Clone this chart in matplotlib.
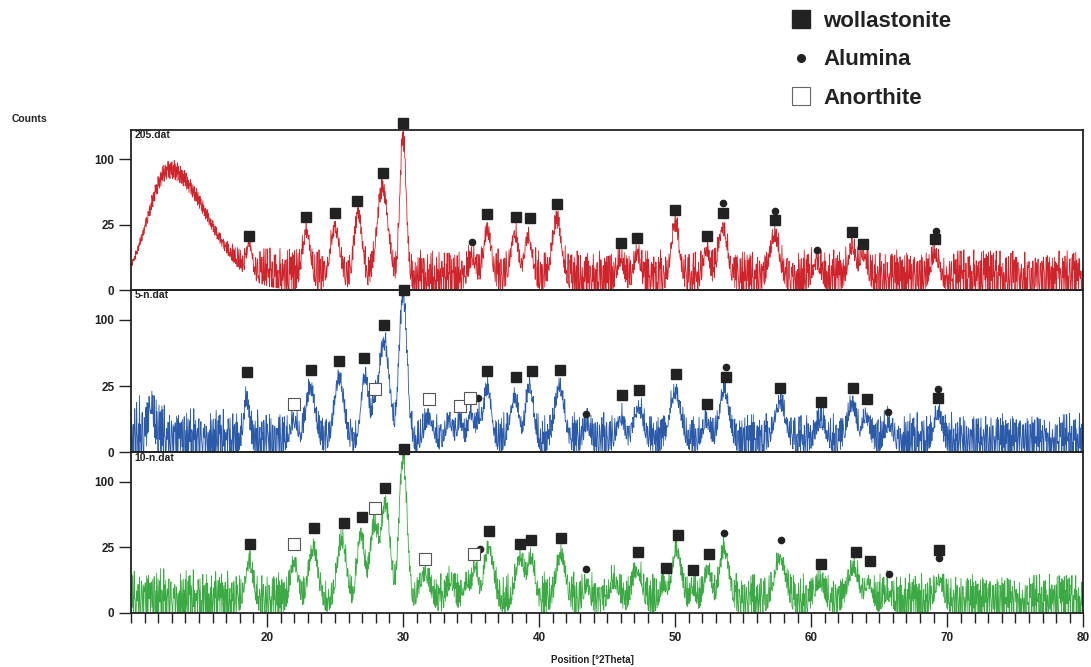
import numpy as np
import matplotlib
matplotlib.use('Agg')
import matplotlib.pyplot as plt
from matplotlib.lines import Line2D
from matplotlib.ticker import MultipleLocator, FixedLocator

plt.rcParams['font.family'] = ['Liberation Sans', 'DejaVu Sans']
plt.rcParams['font.weight'] = 'bold'

# ---- peaks: position [deg 2theta], counts, fwhm ----
top_pos = [18.7, 22.9, 25.0, 26.7, 28.5, 30.0, 35.1, 36.2, 38.2, 39.2, 41.3, 46.0, 47.2,
           50.0, 52.3, 53.5, 57.3, 60.4, 63.0, 63.8, 69.1]
top_hgt = [11, 19, 21, 34, 60, 140, 4, 19, 17, 15, 27, 4, 6, 24, 8, 21, 16, 3, 9, 6, 6]
top_wid = [0.4, 0.5, 0.6, 0.5, 0.7, 0.4, 0.5, 0.5, 0.5, 0.5, 0.6, 0.4, 0.4, 0.5, 0.4,
           0.6, 0.6, 0.5, 0.5, 0.5, 0.5]
# amorphous hump of 205.dat: centre, height, left sigma, right sigma
hump = [12.8, 86, 1.1, 2.0]

mid_pos = [11.5, 18.5, 22.0, 23.2, 25.3, 27.2, 27.9, 28.6, 30.0, 31.9, 33.4, 34.2, 35.0,
           35.6, 36.2, 38.2, 39.3, 41.5, 43.5, 46.0, 47.3, 50.0, 52.3, 53.6, 57.7, 60.7,
           63.0, 64.0, 65.7, 69.3]
mid_hgt = [10, 14, 4, 22, 30, 32, 11, 70, 145, 5, 4, 4, 7, 5, 22, 15, 24, 23, 3, 5, 10,
           19, 4, 21, 12, 4, 11, 6, 3, 7]
mid_wid = [0.3, 0.35, 0.5, 0.6, 0.6, 0.5, 0.4, 0.7, 0.5, 0.6, 0.5, 0.4, 0.4, 0.4, 0.5,
           0.6, 0.5, 0.6, 0.4, 0.5, 0.6, 0.7, 0.5, 0.6, 0.7, 0.6, 0.6, 0.5, 0.5, 0.5]

bot_pos = [18.7, 22.0, 23.4, 25.5, 26.9, 27.9, 28.7, 30.0, 31.6, 33.5, 34.7, 35.3, 36.3,
           38.6, 39.4, 41.6, 43.5, 45.5, 47.2, 49.2, 50.1, 51.3, 52.4, 53.6, 57.7, 60.6,
           63.1, 64.2, 65.6, 69.4]
bot_hgt = [13, 13, 22, 29, 35, 44, 70, 145, 7, 4, 4, 11, 24, 16, 16, 18, 3, 4, 9, 3, 22,
           2, 9, 22, 16, 4, 10, 4, 1, 5]
bot_wid = [0.5, 0.5, 0.6, 0.6, 0.5, 0.6, 0.6, 0.5, 0.7, 0.5, 0.5, 0.4, 0.6, 0.6, 0.5,
           0.6, 0.4, 0.6, 0.6, 0.5, 0.6, 0.4, 0.5, 0.6, 0.7, 0.6, 0.7, 0.5, 0.5, 0.5]

# background noise ceiling (counts) along 2theta
top_env_x = [10, 16, 17.5, 19, 30, 80]
top_env_y = [1, 2, 8, 11, 10, 10]
mid_env_x = [10, 12, 13, 30, 80]
mid_env_y = [20, 18, 11, 9, 9]
bot_env_x = [10, 18, 30, 80]
bot_env_y = [12, 10, 10, 9]

# hand typed jitter patterns (0..1) for the counting noise
jit_a = [0.9, 0.2, 0.7, 0.0, 1.0, 0.4, 0.8, 0.1, 0.6, 0.0, 0.95, 0.3, 0.75, 0.05, 0.5,
         0.85, 0.0, 0.65, 0.25, 1.0, 0.1, 0.55, 0.9, 0.0, 0.35, 0.8, 0.15, 0.7, 0.0, 0.6,
         0.45, 0.95, 0.05, 0.75, 0.3, 0.0, 0.85, 0.5, 0.2, 0.9, 0.0, 0.4, 0.7, 0.1, 1.0,
         0.6, 0.0]
jit_b = [0.6, 1.0, 0.0, 0.8, 0.3, 0.9, 0.0, 0.7, 1.0, 0.2, 0.5, 0.0, 0.9, 0.6, 0.1, 0.8,
         0.4, 0.0, 1.0, 0.7, 0.3, 0.0, 0.85, 0.5, 0.95, 0.1, 0.0, 0.65, 0.9, 0.35, 0.75]

# ---- marker positions (2theta, counts) ----
top_wol_x = [18.7, 22.9, 25.0, 26.6, 28.5, 30.0, 36.2, 38.3, 39.3, 41.3, 46.0, 47.2, 50.0,
             52.35, 53.5, 57.35, 63.0, 63.8, 69.1]
top_wol_y = [17, 31, 35, 46, 80, 163, 34, 31.5, 30.5, 43, 13, 16, 38, 17, 35, 29, 20, 12.5, 15.4]
top_alu_x = [35.1, 53.5, 57.35, 60.45, 69.2]
top_alu_y = [13.6, 44, 37, 9.5, 20.6]

mid_wol_x = [18.5, 23.2, 25.3, 27.1, 28.6, 30.05, 36.2, 38.3, 39.5, 41.5, 46.1, 47.35,
             50.05, 52.35, 53.75, 57.7, 60.75, 63.1, 64.1, 69.35]
mid_wol_y = [37, 39, 48, 51, 92, 150, 38, 32, 38, 39, 18.4, 22, 34.5, 13.3, 32.7, 23.4,
             14.5, 23.4, 16.4, 17]
mid_alu_x = [35.5, 43.45, 53.7, 65.65, 69.35]
mid_alu_y = [17, 8.2, 41, 9.1, 22.7]
mid_ano_x = [22.0, 27.95, 31.9, 34.2, 34.95]
mid_ano_y = [13.3, 22.7, 16.4, 12.2, 17]

bot_wol_x = [18.75, 23.45, 25.65, 27.0, 28.7, 30.05, 36.3, 38.6, 39.4, 41.6, 47.3, 49.35,
             50.2, 51.3, 52.45, 60.75, 63.3, 64.35, 69.4]
bot_wol_y = [28, 41.5, 47.5, 54, 90, 157, 38.6, 28, 30.6, 32.3, 21.4, 11.6, 35, 10.6, 20,
             13.8, 21.4, 15.5, 22.8]
bot_alu_x = [35.65, 43.45, 53.6, 57.8, 65.75, 69.4]
bot_alu_y = [23.5, 11.1, 36.7, 30.6, 8.7, 17.4]
bot_ano_x = [22.0, 27.95, 31.6, 35.2]
bot_ano_y = [28, 64.5, 16.7, 20]

x = np.arange(10.0, 80.0001, 0.035)
idx = np.arange(len(x))
ja = np.array(jit_a)
jb = np.array(jit_b)


def trace(pos, hgt, wid, env_x, env_y, shift, hump=None):
    a = ja[(idx + shift) % len(ja)]
    b = jb[(idx + 2 * shift + 5) % len(jb)]
    pk = np.zeros_like(x)
    for c, h, w in zip(pos, hgt, wid):
        pk += h * np.exp(-4 * np.log(2) * ((x - c) / w) ** 2)
    if hump is not None:
        c, h, sl, sr = hump
        s = np.where(x < c, sl, sr)
        pk += h * np.exp(-0.5 * ((x - c) / s) ** 2)
    pk = pk * (0.85 + 0.3 * a)
    bg = np.interp(x, env_x, env_y) * a * b
    return pk + bg


def fwd(v):
    return np.sqrt(np.clip(v, 0, None))


def inv(v):
    return np.square(v)


y_top = trace(top_pos, top_hgt, top_wid, top_env_x, top_env_y, 0, hump)
y_mid = trace(mid_pos, mid_hgt, mid_wid, mid_env_x, mid_env_y, 13)
y_bot = trace(bot_pos, bot_hgt, bot_wid, bot_env_x, bot_env_y, 29)

fig = plt.figure(figsize=(10.91, 6.67), dpi=100)
left, width = 0.120, 0.873
boxes = [(0.565, 0.240), (0.322, 0.243), (0.081, 0.241)]
names = ['205.dat', '5-n.dat', '10-n.dat']
colors = ['#d0242c', '#2a5aa8', '#3caa44']
ys = [y_top, y_mid, y_bot]
wols = [(top_wol_x, top_wol_y), (mid_wol_x, mid_wol_y), (bot_wol_x, bot_wol_y)]
alus = [(top_alu_x, top_alu_y), (mid_alu_x, mid_alu_y), (bot_alu_x, bot_alu_y)]
anos = [None, (mid_ano_x, mid_ano_y), (bot_ano_x, bot_ano_y)]

axes = []
for i in range(3):
    ax = fig.add_axes([left, boxes[i][0], width, boxes[i][1]])
    ax.patch.set_alpha(0)
    ax.plot(x, ys[i], color=colors[i], lw=0.6)
    ax.set_xlim(10, 80)
    ax.set_yscale('function', functions=(fwd, inv))
    ax.set_ylim(0, 150)
    ax.yaxis.set_major_locator(FixedLocator([0, 25, 100]))
    ax.yaxis.set_minor_locator(FixedLocator([]))
    ax.tick_params(axis='y', direction='out', length=9, width=1, labelsize=8.5, pad=3,
                   colors='#222222')
    for sp in ax.spines.values():
        sp.set_linewidth(1.3)
        sp.set_color('#222222')
    ax.text(0.004, 0.998, names[i], transform=ax.transAxes, va='top', ha='left',
            fontsize=7.5, color='#222222')
    wx, wy = wols[i]
    ax.plot(wx, wy, 's', ms=7.5, color='#222222', clip_on=False, zorder=5)
    ax_, ay_ = alus[i]
    ax.plot(ax_, ay_, 'o', ms=4.5, color='#222222', clip_on=False, zorder=5)
    if anos[i] is not None:
        ox, oy = anos[i]
        ax.plot(ox, oy, 's', ms=8, mfc='white', mec='#555555', mew=0.8, clip_on=False,
                zorder=5)
    if i < 2:
        ax.tick_params(axis='x', bottom=False, labelbottom=False)
    axes.append(ax)

ax = axes[2]
ax.xaxis.set_major_locator(FixedLocator([20, 30, 40, 50, 60, 70, 80]))
ax.xaxis.set_minor_locator(MultipleLocator(1))
ax.tick_params(axis='x', which='major', direction='out', length=10, width=1,
               labelsize=8.5, pad=4, colors='#222222')
ax.tick_params(axis='x', which='minor', direction='out', length=7, width=1,
               colors='#222222')

fig.text(0.011, 0.817, 'Counts', fontsize=7.5, color='#222222')
fig.text(0.543, 0.006, 'Position [\u00b02Theta]', fontsize=7, ha='center',
         color='#222222')

handles = [Line2D([], [], marker='s', ls='none', color='#222222', ms=13),
           Line2D([], [], marker='o', ls='none', color='#222222', ms=5.5),
           Line2D([], [], marker='s', ls='none', mfc='white', mec='#666666', mew=0.8, ms=13)]
fig.legend(handles, ['wollastonite', 'Alumina', 'Anorthite'], loc='upper left',
           bbox_to_anchor=(0.712, 1.0), frameon=False,
           prop={'weight': 'bold', 'size': 16}, labelcolor='#222222',
           labelspacing=0.78, handletextpad=0.4, handlelength=1.2, borderaxespad=0.1)

fig.savefig('out.png', dpi=100)
